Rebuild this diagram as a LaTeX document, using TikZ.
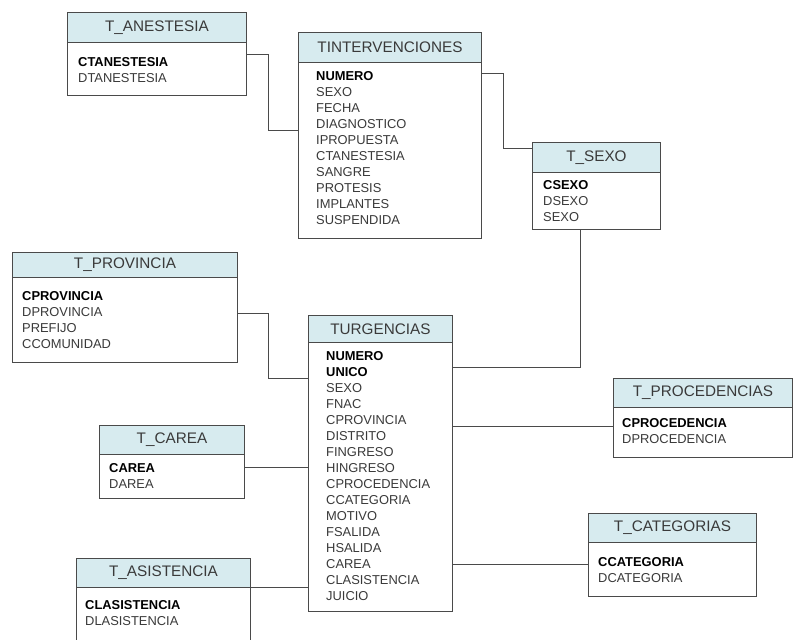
\documentclass[tikz,border=0pt]{standalone}
\usepackage{fontspec}
\setmainfont{Liberation Sans}
\usetikzlibrary{calc}

\definecolor{headfill}{HTML}{D7EBEF}
\definecolor{edge}{HTML}{4A4A4A}
\definecolor{fieldtxt}{HTML}{3A3A3A}

% a key field: bold and black
\newcommand\keyf[1]{\textcolor{black}{\bfseries #1}}

% table frame: #1 name, #2 x, #3 y, #4 width, #5 header height, #6 total height, #7 title
\newcommand\dbtable[7]{%
  \node[tablebox, minimum width=#4, minimum height=#6, anchor=north west] (#1) at (#2,#3) {};
  \node[tablehead, minimum width=#4, minimum height=#5, anchor=north west] (#1-h) at (#1.north west) {#7};
}
% field column: #1 name prefix, #2 x, #3 y of first row, #4 fields
\newcommand\fieldrows[4]{%
  \foreach \f [count=\i from 0] in {#4} {
    \node[field, anchor=west] (#1-f\i) at ({#2},{#3+16*\i}) {\f};
  }
}

\tikzset{
  tablebox/.style={draw=edge, line width=0.9pt, fill=white, inner sep=0pt},
  tablehead/.style={draw=edge, line width=0.9pt, fill=headfill, inner sep=0pt,
    text=fieldtxt, font=\fontsize{15.3}{17}\selectfont},
  field/.style={inner sep=0pt, text=fieldtxt, font=\fontsize{12.9}{14}\selectfont},
  conn/.style={draw=edge, line width=0.9pt},
}

\begin{document}
\begin{tikzpicture}[x=1pt, y=-1pt]
\useasboundingbox (0,0) rectangle (793,640);
\clip (0,0) rectangle (793,640);
\fill[white] (0,0) rectangle (793,640);

% table frames with their title bars
\dbtable{anest}{67}{12}{179}{30}{83}{T\_ANESTESIA}
\dbtable{interv}{298}{32}{183}{30}{206}{TINTERVENCIONES}
\dbtable{sexo}{532}{142}{128}{30}{87}{T\_SEXO}
\dbtable{prov}{12}{252}{225}{25}{110}{T\_PROVINCIA}
\dbtable{turg}{308}{315}{144}{27}{296}{TURGENCIAS}
\dbtable{proc}{613}{378}{179}{29}{79}{T\_PROCEDENCIAS}
\dbtable{carea}{99}{425}{145}{29}{73}{T\_CAREA}
\dbtable{categ}{588}{513}{168}{29}{83}{T\_CATEGORIAS}
\dbtable{asist}{76}{558}{174}{29}{90}{T\_ASISTENCIA}

% relationship lines
\coordinate (c-anest) at ([yshift=-42pt]anest.north east);
\coordinate (c-interv-l) at ([yshift=-98pt]interv.north west);
\draw[conn] (c-anest) -- ++(22,0) |- (c-interv-l);

\coordinate (c-interv-r) at ([yshift=-41pt]interv.north east);
\coordinate (c-sexo-l) at ([yshift=-6pt]sexo.north west);
\draw[conn] (c-interv-r) -- ++(22,0) |- (c-sexo-l);

\coordinate (c-sexo-b) at ([xshift=48pt]sexo.south west);
\coordinate (c-turg-sexo) at ([yshift=-52pt]turg.north east);
\draw[conn] (c-sexo-b) |- (c-turg-sexo);

\coordinate (c-prov) at ([yshift=-61pt]prov.north east);
\coordinate (c-turg-prov) at ([yshift=-63pt]turg.north west);
\draw[conn] (c-prov) -- ++(31,0) |- (c-turg-prov);

\coordinate (c-carea) at ([yshift=-42pt]carea.north east);
\draw[conn] (c-carea) -- (c-carea -| turg.west);

\coordinate (c-asist) at ([yshift=-29pt]asist.north east);
\draw[conn] (c-asist) -- (c-asist -| turg.west);

\coordinate (c-proc) at ([yshift=-48pt]proc.north west);
\draw[conn] (c-proc) -- (c-proc -| turg.east);

\coordinate (c-categ) at ([yshift=-51pt]categ.north west);
\draw[conn] (c-categ) -- (c-categ -| turg.east);

% field lists
\fieldrows{anest}{78}{62}{\keyf{CTANESTESIA}, DTANESTESIA}
\fieldrows{interv}{316}{76}{\keyf{NUMERO}, SEXO, FECHA, DIAGNOSTICO, IPROPUESTA,
  CTANESTESIA, SANGRE, PROTESIS, IMPLANTES, SUSPENDIDA}
\fieldrows{sexo}{543}{185}{\keyf{CSEXO}, DSEXO, SEXO}
\fieldrows{prov}{22}{296}{\keyf{CPROVINCIA}, DPROVINCIA, PREFIJO, CCOMUNIDAD}
\fieldrows{turg}{326}{356}{\keyf{NUMERO}, \keyf{UNICO}, SEXO, FNAC, CPROVINCIA,
  DISTRITO, FINGRESO, HINGRESO, CPROCEDENCIA, CCATEGORIA, MOTIVO, FSALIDA,
  HSALIDA, CAREA, CLASISTENCIA, JUICIO}
\fieldrows{proc}{622}{423}{\keyf{CPROCEDENCIA}, DPROCEDENCIA}
\fieldrows{carea}{109}{468}{\keyf{CAREA}, DAREA}
\fieldrows{categ}{598}{562}{\keyf{CCATEGORIA}, DCATEGORIA}
\fieldrows{asist}{85}{605}{\keyf{CLASISTENCIA}, DLASISTENCIA}
\end{tikzpicture}
\end{document}
